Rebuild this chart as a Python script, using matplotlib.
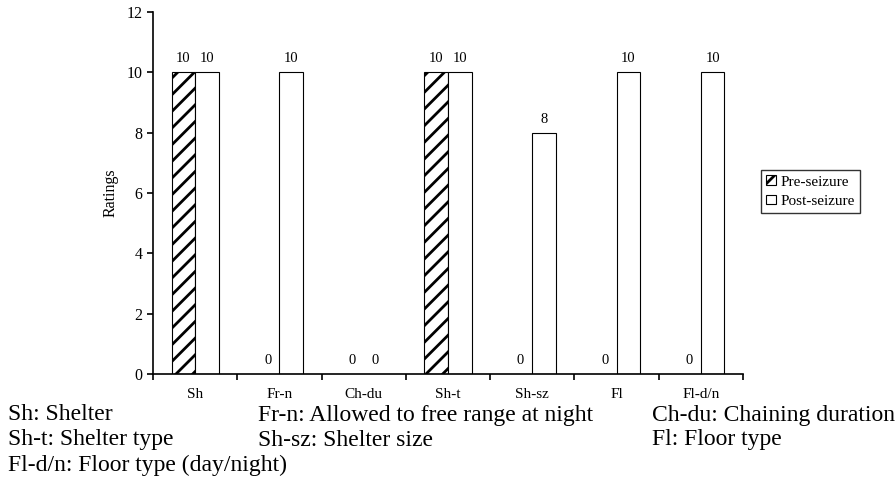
import matplotlib.pyplot as plt
import numpy as np

plt.rcParams['font.family'] = ['Liberation Serif', 'DejaVu Serif']
plt.rcParams['hatch.linewidth'] = 2.0

CATEGORIES = ['Sh', 'Fr-n', 'Ch-du', 'Sh-t', 'Sh-sz', 'Fl', 'Fl-d/n']
PRE_SEIZURE = [10, 0, 0, 10, 0, 0, 0]
POST_SEIZURE = [10, 10, 0, 10, 8, 10, 10]
Y_TICKS = [0, 2, 4, 6, 8, 10, 12]
CAPTION = [
    ('Sh: Shelter', 'Fr-n: Allowed to free range at night', 'Ch-du: Chaining duration'),
    ('Sh-t: Shelter type', 'Sh-sz: Shelter size', 'Fl: Floor type'),
    ('Fl-d/n: Floor type (day/night)', '', ''),
]


def main():
    fig = plt.figure(figsize=(8.96, 4.88), dpi=100)
    ax = fig.add_axes([153 / 896, 1 - 374 / 488, (743 - 153) / 896, (374 - 12) / 488])

    x = np.arange(len(CATEGORIES))
    width = 0.28
    pre = ax.bar(x - width / 2, PRE_SEIZURE, width, facecolor='white',
                 edgecolor='black', hatch='//', linewidth=0.8, label='Pre-seizure')
    post = ax.bar(x + width / 2, POST_SEIZURE, width, facecolor='white',
                  edgecolor='black', linewidth=0.8, label='Post-seizure')
    # zero-height bars should not leave a visible line
    for bars, vals in ((pre, PRE_SEIZURE), (post, POST_SEIZURE)):
        for b, v in zip(bars, vals):
            if v == 0:
                b.set_visible(False)

    ax.bar_label(pre, padding=5, fontsize=10.5)
    ax.bar_label(post, padding=5, fontsize=10.5)

    ax.set_xlim(-0.5, len(CATEGORIES) - 0.5)
    ax.set_ylim(0, 12)
    ax.set_yticks(Y_TICKS)
    ax.set_xticks(np.append(x - 0.5, len(CATEGORIES) - 0.5))
    ax.set_xticklabels([])
    ax.set_xticks(x, minor=True)
    ax.set_xticklabels(CATEGORIES, minor=True, fontsize=11)
    ax.tick_params(axis='x', which='major', direction='out', length=4, width=1.2)
    ax.tick_params(axis='x', which='minor', length=0, pad=10)
    ax.tick_params(axis='y', direction='out', length=4, width=1.2, labelsize=11.5)
    ax.spines['top'].set_visible(False)
    ax.spines['right'].set_visible(False)
    ax.spines['left'].set_linewidth(1.2)
    ax.spines['bottom'].set_linewidth(1.2)
    ax.set_ylabel('Ratings', fontsize=11.5, labelpad=6)

    fig.legend(loc='upper left', bbox_to_anchor=(761 / 896, 1 - 170 / 488),
               fontsize=11, frameon=True, fancybox=False, edgecolor='black',
               handlelength=0.6, handleheight=0.6, handletextpad=0.3,
               borderpad=0.35, labelspacing=0.4, borderaxespad=0)

    col_x = [8, 258, 652]
    row_y = [415, 440, 465]
    for r, row in enumerate(CAPTION):
        for c, txt in enumerate(row):
            if txt:
                fig.text(col_x[c] / 896, 1 - row_y[r] / 488, txt,
                         fontsize=17, va='center', ha='left')

    fig.savefig('out.png', dpi=100)
    plt.close(fig)


if __name__ == "__main__":
    main()
